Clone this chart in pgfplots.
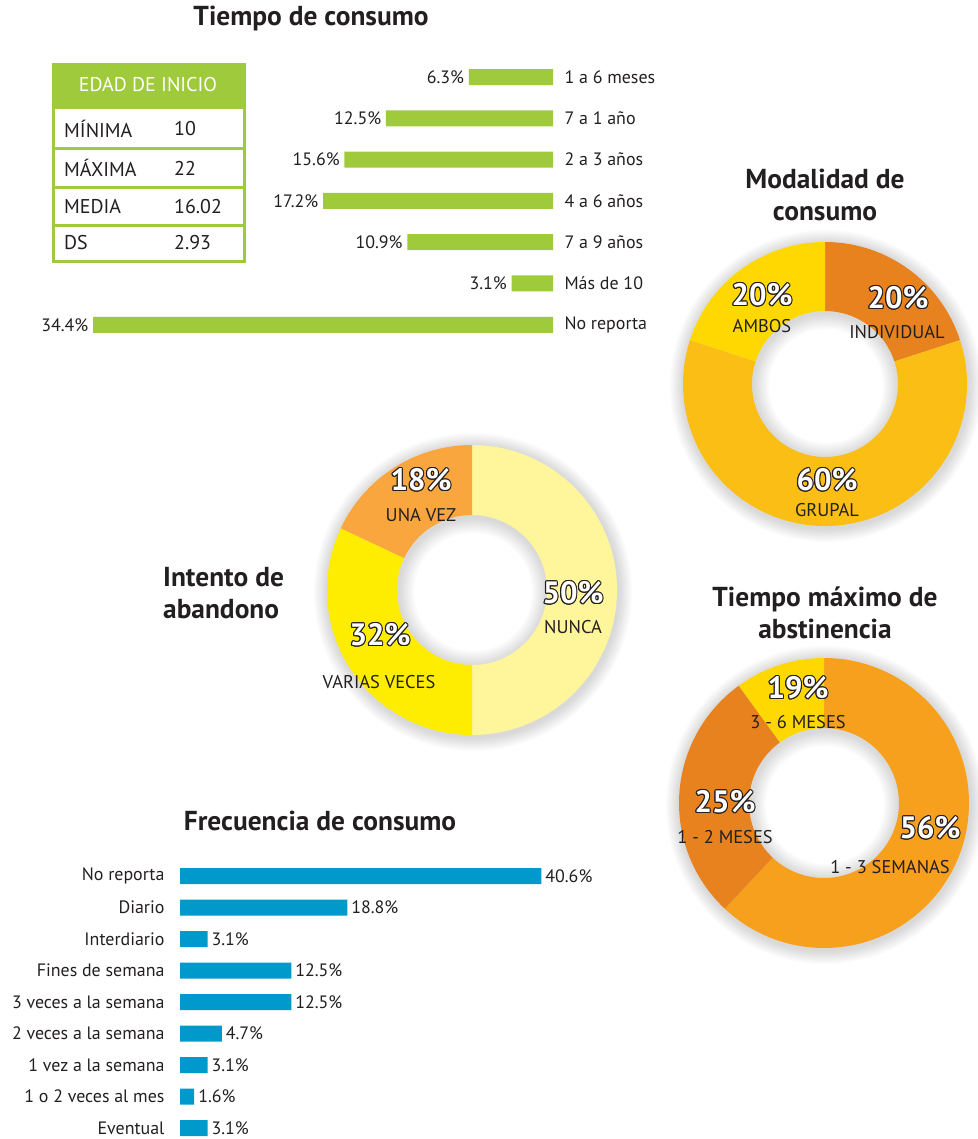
\documentclass[border=0pt]{standalone}
\usepackage{fontspec}
\setmainfont{PT Sans}
\usepackage{pgfplots}
\usepackage{pgfplotstable}
\pgfplotsset{compat=1.18}

\definecolor{txt}{HTML}{231F20}
\definecolor{grn}{HTML}{9FCA3B}
\definecolor{blu}{HTML}{0099CC}
\definecolor{dorange}{HTML}{E8821E}
\definecolor{gold}{HTML}{FBBE14}
\definecolor{yel}{HTML}{FED800}
\definecolor{lyel}{HTML}{FFF59A}
\definecolor{yel2}{HTML}{FFED00}
\definecolor{lorange}{HTML}{F8A63D}
\definecolor{orng}{HTML}{F6A01E}

\newcommand\lbl{\fontsize{18}{20}\selectfont}
\newcommand\tbl{\fontsize{20}{22}\selectfont}
\newcommand\ttl{\fontsize{27.5}{32}\selectfont\bfseries}
\newcommand\pct{\fontsize{31}{32}\selectfont\bfseries}
\newcommand\dlb{\fontsize{18.5}{20}\selectfont}

% data: Tiempo de consumo (%)
\pgfplotstableread{
cat val
0 6.3
1 12.5
2 15.6
3 17.2
4 10.9
5 3.1
6 34.4
}\tiempo
% data: Frecuencia de consumo (%)
\pgfplotstableread{
cat val
0 40.6
1 18.8
2 3.1
3 12.5
4 12.5
5 4.7
6 3.1
7 1.6
8 3.1
}\frecuencia
% donut shares (as drawn), clockwise from 12 o'clock
\def\modIndividual{20}\def\modGrupal{60}\def\modAmbos{20}
\def\intNunca{50}\def\intVarias{32}\def\intUna{18}
\def\absSemanas{62}\def\absMeses{28}\def\absSeis{10}

\pgfmathsetmacro{\mA}{90-3.6*\modIndividual}
\pgfmathsetmacro{\mB}{\mA-3.6*\modGrupal}
\pgfmathsetmacro{\iA}{90-3.6*\intNunca}
\pgfmathsetmacro{\iB}{\iA-3.6*\intVarias}
\pgfmathsetmacro{\aA}{90-3.6*\absSemanas}
\pgfmathsetmacro{\aB}{\aA-3.6*\absMeses}

% ring slice: start, end, R, r, colour (inside axis with x=y=1bp)
\newcommand{\ring}[5]{%
  \fill[#5] (axis cs:{#3*cos(#1)},{#3*sin(#1)}) arc[start angle=#1, end angle=#2, radius=#3bp]
    -- (axis cs:{#4*cos(#2)},{#4*sin(#2)}) arc[start angle=#2, end angle=#1, radius=#4bp] -- cycle;}

\newcommand{\shadowring}[4]{% cx, cy, R, r
  \foreach \k in {1,...,10}{
    \fill[black,opacity=0.016,even odd rule] (#1+1,#2+2) circle[radius={#3+1.4*\k}] circle[radius={#4-1.6*\k}];
  }}

\newcommand{\olab}[2]{%
  \foreach \a in {0,30,...,330}{\node[text=txt,font=\pct,shift={(\a:1.1bp)}] at #1 {#2};}
  \node[text=white,font=\pct] at #1 {#2};}

\begin{document}
\begin{tikzpicture}
\path[use as bounding box] (0,0) rectangle (978bp,-1139bp);

\begin{scope}[x=1bp,y=-1bp]
% table
\fill[grn] (52,63) rectangle (246,263);
\fill[white] (55,109) rectangle (243,147);
\fill[white] (55,150) rectangle (243,186);
\fill[white] (55,189) rectangle (243,224);
\fill[white] (55,227) rectangle (243,260);
\node[text=white,font=\tbl] at (148,85) {EDAD DE INICIO};
\node[text=txt,font=\tbl,anchor=west,inner sep=0] at (64,129) {MÍNIMA};
\node[text=txt,font=\tbl,anchor=west,inner sep=0] at (64,168) {MÁXIMA};
\node[text=txt,font=\tbl,anchor=west,inner sep=0] at (64,207) {MEDIA};
\node[text=txt,font=\tbl,anchor=west,inner sep=0] at (64,243) {DS};
\node[text=txt,font=\tbl,anchor=west,inner sep=0] at (174,129) {10};
\node[text=txt,font=\tbl,anchor=west,inner sep=0] at (174,168) {22};
\node[text=txt,font=\tbl,anchor=west,inner sep=0] at (174,207) {16.02};
\node[text=txt,font=\tbl,anchor=west,inner sep=0] at (174,243) {2.93};
% titles
\node[text=txt,font=\ttl] at (311,18) {Tiempo de consumo};
\node[text=txt,font=\ttl,align=center] at (825,195) {Modalidad de\\consumo};
\node[text=txt,font=\ttl,align=left,anchor=west,inner sep=0] at (163,593) {Intento de\\abandono};
\node[text=txt,font=\ttl,align=center] at (825,613) {Tiempo máximo de\\abstinencia};
\node[text=txt,font=\ttl] at (320,821) {Frecuencia de consumo};
% donut shadows
\shadowring{825}{384}{142}{73}
\shadowring{472}{590}{145}{75}
\shadowring{824}{803}{145}{75}
\end{scope}

% Tiempo de consumo
\begin{axis}[
  at={(553bp,-56.35bp)}, anchor=north east,
  scale only axis, width=534.8bp, height=289.1bp,
  xbar, bar width=16bp, xmin=0, xmax=40, x dir=reverse,
  ymin=-0.5, ymax=6.5, y dir=reverse,
  ytick={0,...,6},
  yticklabels={1 a 6 meses, 7 a 1 año, 2 a 3 años, 4 a 6 años, 7 a 9 años, Más de 10, No reporta},
  yticklabel pos=right, xtick=\empty,
  axis line style={draw=none}, major tick length=0pt,
  yticklabel style={anchor=west, xshift=8bp, font=\lbl, text=txt},
  /pgf/number format/assume math mode=true,
  nodes near coords={\pgfmathprintnumber[fixed,precision=1,fixed zerofill]{\pgfplotspointmeta}\%},
  every node near coord/.append style={anchor=east, xshift=-1.2bp, font=\lbl, text=txt},
  clip=false,
]
\addplot[fill=grn, draw=none] table[x=val, y=cat] {\tiempo};
\end{axis}

% Frecuencia de consumo
\begin{axis}[
  at={(180bp,-860.25bp)}, anchor=north west,
  scale only axis, width=400.5bp, height=283.5bp,
  xbar, bar width=16bp, xmin=0, xmax=45,
  ymin=-0.5, ymax=8.5, y dir=reverse,
  ytick={0,...,8},
  yticklabels={No reporta, Diario, Interdiario, Fines de semana, 3 veces a la semana, 2 veces a la semana, 1 vez a la semana, 1 o 2 veces al mes, Eventual},
  xtick=\empty,
  axis line style={draw=none}, major tick length=0pt,
  yticklabel style={anchor=east, xshift=-12bp, font=\lbl, text=txt},
  /pgf/number format/assume math mode=true,
  nodes near coords={\pgfmathprintnumber[fixed,precision=1,fixed zerofill]{\pgfplotspointmeta}\%},
  every node near coord/.append style={anchor=west, xshift=0.5bp, font=\lbl, text=txt},
  clip=false,
]
\addplot[fill=blu, draw=none] table[x=val, y=cat] {\frecuencia};
\end{axis}

% Modalidad de consumo
\begin{axis}[at={(825bp,-384bp)}, anchor=center, x=1bp, y=1bp,
  xmin=-160, xmax=160, ymin=-160, ymax=160, hide axis, clip=false]
\ring{90}{\mA}{142}{73}{dorange}
\ring{\mA}{\mB}{142}{73}{gold}
\ring{\mB}{-270}{142}{73}{yel}
\end{axis}

% Intento de abandono
\begin{axis}[at={(472bp,-590bp)}, anchor=center, x=1bp, y=1bp,
  xmin=-160, xmax=160, ymin=-160, ymax=160, hide axis, clip=false]
\ring{90}{\iA}{145}{75}{lyel}
\ring{\iA}{\iB}{145}{75}{yel2}
\ring{\iB}{-270}{145}{75}{lorange}
\end{axis}

% Tiempo maximo de abstinencia
\begin{axis}[at={(824bp,-803bp)}, anchor=center, x=1bp, y=1bp,
  xmin=-160, xmax=160, ymin=-160, ymax=160, hide axis, clip=false]
\ring{90}{\aA}{145}{75}{orng}
\ring{\aA}{\aB}{145}{75}{dorange}
\ring{\aB}{-270}{145}{75}{yel}
\end{axis}

\begin{scope}[x=1bp,y=-1bp]
% Modalidad labels
\olab{(762,295)}{20\%}
\node[text=txt,font=\dlb] at (762,326) {AMBOS};
\olab{(898,298)}{20\%}
\node[text=txt,font=\dlb] at (897,332) {INDIVIDUAL};
\olab{(827,480)}{60\%}
\node[text=txt,font=\dlb] at (827,510) {GRUPAL};
% Intento labels
\olab{(421,480)}{18\%}
\node[text=txt,font=\dlb] at (421,515) {UNA VEZ};
\olab{(573,593)}{50\%}
\node[text=txt,font=\dlb] at (573,627) {NUNCA};
\olab{(380,635)}{32\%}
\node[text=txt,font=\dlb] at (379,682) {VARIAS VECES};
% Abstinencia labels
\olab{(798,688)}{19\%}
\node[text=txt,font=\dlb] at (798,722) {3 - 6 MESES};
\olab{(725,802)}{25\%}
\node[text=txt,font=\dlb] at (725,837) {1 - 2 MESES};
\olab{(930,828)}{56\%}
\node[text=txt,font=\dlb] at (890,867) {1 - 3 SEMANAS};
\end{scope}
\end{tikzpicture}
\end{document}
